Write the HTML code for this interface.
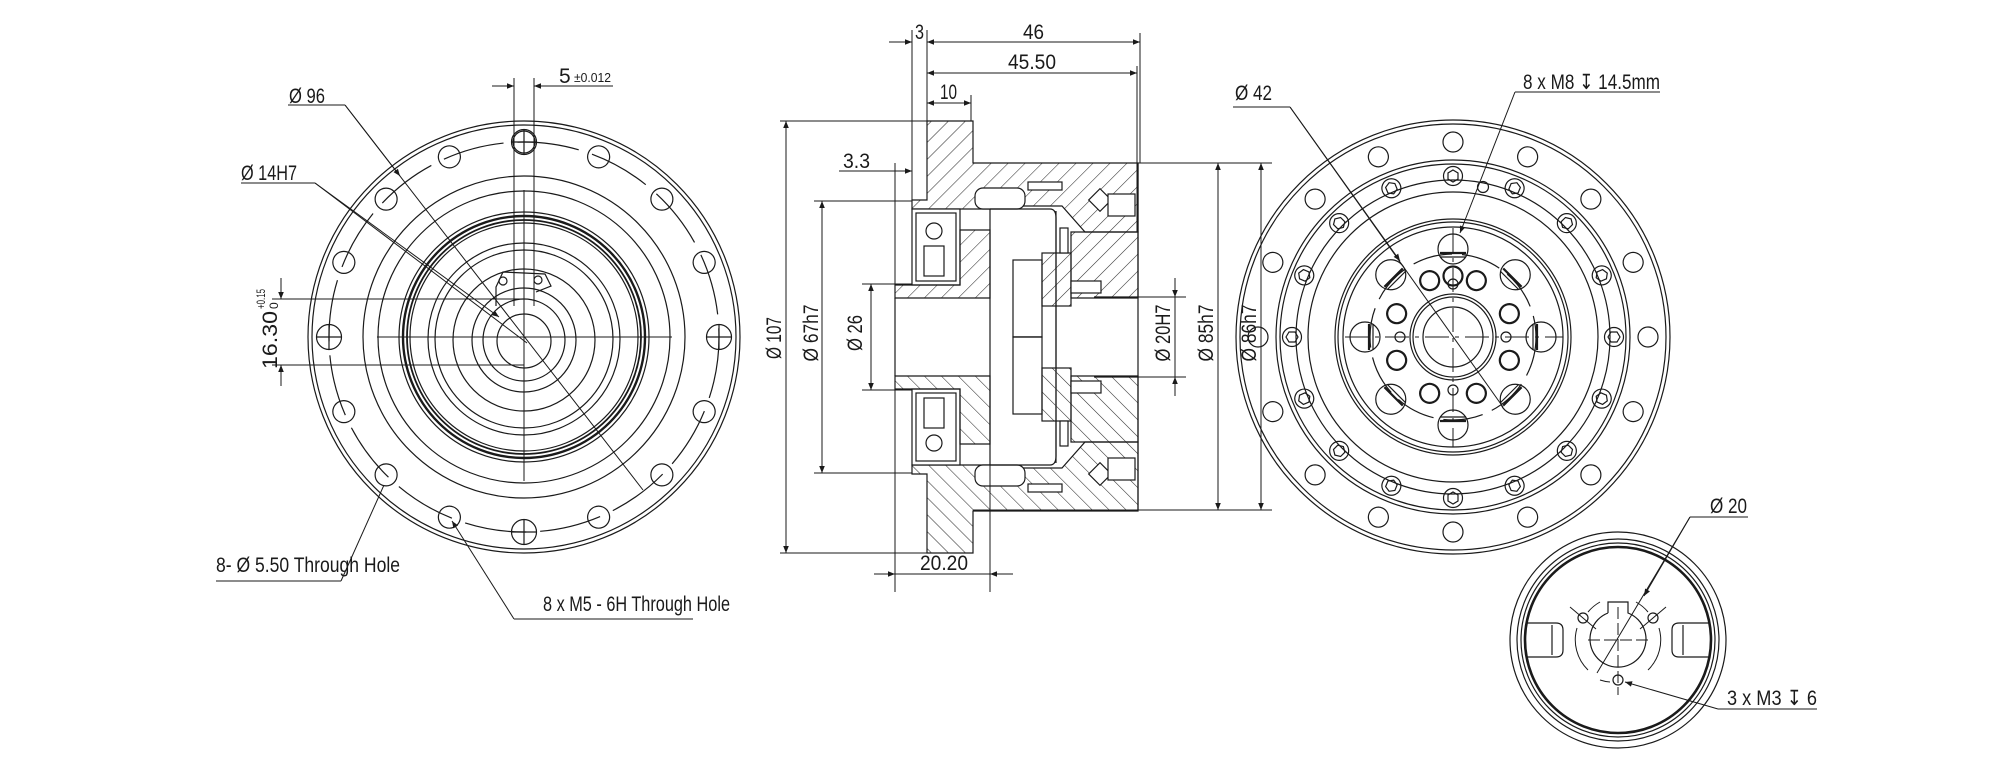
<!DOCTYPE html>
<html><head><meta charset="utf-8"><style>
html,body{margin:0;padding:0;background:#fff}
svg{display:block}
text{font-family:"Liberation Sans Narrow","Liberation Sans","DejaVu Sans",sans-serif;fill:#1a1a1a;font-size:21px}
</style></head><body>
<svg width="2000" height="765" viewBox="0 0 2000 765" xmlns="http://www.w3.org/2000/svg">
<defs>
<marker id="a" viewBox="0 0 10 10" refX="10" refY="5" markerWidth="14" markerHeight="7" markerUnits="userSpaceOnUse" orient="auto-start-reverse"><path d="M0,1 L10,5 L0,9z" fill="#1a1a1a"/></marker>
<pattern id="ht" patternUnits="userSpaceOnUse" width="12" height="12" patternTransform="rotate(45)"><line x1="0" y1="0" x2="0" y2="12" stroke="#333" stroke-width="1.1"/></pattern>
</defs>
<rect width="2000" height="765" fill="#fff"/>

<!-- ============ LEFT VIEW ============ -->
<g fill="none" stroke="#1a1a1a" stroke-width="1.2">
<circle cx="524" cy="337" r="216"/>
<circle cx="524" cy="337" r="212"/>
<circle cx="524" cy="337" r="195" stroke-dasharray="62 14"/>
<circle cx="524" cy="337" r="161"/>
<circle cx="524" cy="337" r="146"/>
<circle cx="524" cy="337" r="125"/>
<circle cx="524" cy="337" r="121" stroke-width="2.4"/>
<circle cx="524" cy="337" r="117" stroke-width="1.8"/>
<circle cx="524" cy="337" r="114"/>
<circle cx="524" cy="339" r="96"/>
<circle cx="524" cy="339" r="89"/>
<circle cx="524" cy="340" r="71"/>
<circle cx="524" cy="340" r="52"/>
<circle cx="524" cy="340" r="41"/>
<circle cx="524" cy="341" r="27"/>
<path d="M496,306 L496,287 L503,272 L545,274 L551,286 L536,292"/>
<circle cx="503" cy="281" r="4"/>
<circle cx="538" cy="280" r="4"/>
<g id="lh"><circle cx="524" cy="142" r="11"/></g>
<use href="#lh" transform="rotate(22.5 524 337)"/>
<use href="#lh" transform="rotate(45 524 337)"/>
<use href="#lh" transform="rotate(67.5 524 337)"/>
<use href="#lh" transform="rotate(112.5 524 337)"/>
<use href="#lh" transform="rotate(135 524 337)"/>
<use href="#lh" transform="rotate(157.5 524 337)"/>
<use href="#lh" transform="rotate(202.5 524 337)"/>
<use href="#lh" transform="rotate(225 524 337)"/>
<use href="#lh" transform="rotate(247.5 524 337)"/>
<use href="#lh" transform="rotate(292.5 524 337)"/>
<use href="#lh" transform="rotate(315 524 337)"/>
<use href="#lh" transform="rotate(337.5 524 337)"/>
<g id="lc"><circle cx="524" cy="142" r="12.5"/><line x1="511" y1="142" x2="537" y2="142"/><line x1="524" y1="129" x2="524" y2="155"/></g>
<use href="#lc" transform="rotate(90 524 337)"/>
<use href="#lc" transform="rotate(180 524 337)"/>
<use href="#lc" transform="rotate(270 524 337)"/>
<line x1="377" y1="337" x2="672" y2="337" stroke-width="1"/>
<line x1="524" y1="190" x2="524" y2="481" stroke-width="1"/>
<line x1="514" y1="78" x2="514" y2="306" stroke-width="1"/>
<line x1="534" y1="78" x2="534" y2="306" stroke-width="1"/>
<line x1="492" y1="86" x2="514" y2="86" stroke-width="1" marker-end="url(#a)"/>
<line x1="613" y1="86" x2="534" y2="86" stroke-width="1" marker-end="url(#a)"/>
<line x1="272" y1="299" x2="524" y2="299" stroke-width="1"/>
<line x1="272" y1="365" x2="524" y2="365" stroke-width="1"/>
<line x1="281" y1="278" x2="281" y2="299" stroke-width="1" marker-end="url(#a)"/>
<line x1="281" y1="386" x2="281" y2="365" stroke-width="1" marker-end="url(#a)"/>
<line x1="288" y1="105" x2="345" y2="105" stroke-width="1"/>
<line x1="345" y1="105" x2="643" y2="490" stroke-width="1"/>
<line x1="345" y1="105" x2="400" y2="176" stroke-width="1" marker-end="url(#a)"/>
<line x1="241" y1="183" x2="315" y2="183" stroke-width="1"/>
<line x1="315" y1="183" x2="527" y2="343" stroke-width="1"/>
<line x1="315" y1="183" x2="499" y2="317" stroke-width="1" marker-end="url(#a)"/>
<line x1="216" y1="581" x2="341" y2="581" stroke-width="1"/>
<line x1="341" y1="581" x2="384" y2="485" stroke-width="1"/>
<line x1="514" y1="619" x2="693" y2="619" stroke-width="1"/>
<line x1="514" y1="619" x2="452" y2="521" stroke-width="1" marker-end="url(#a)"/>
</g>
<text x="289" y="103" textLength="36" lengthAdjust="spacingAndGlyphs">Ø 96</text>
<text x="241" y="180" textLength="56" lengthAdjust="spacingAndGlyphs">Ø 14H7</text>
<text x="559" y="83">5</text>
<text x="574" y="82" style="font-size:13px" textLength="37" lengthAdjust="spacingAndGlyphs">±0.012</text>
<text transform="translate(277,340) rotate(-90)" text-anchor="middle" textLength="58" lengthAdjust="spacingAndGlyphs">16.30</text>
<text transform="translate(265,309) rotate(-90)" style="font-size:12px" textLength="20" lengthAdjust="spacingAndGlyphs">+0.15</text>
<text transform="translate(278,309) rotate(-90)" style="font-size:12px">0</text>
<text x="216" y="572" textLength="184" lengthAdjust="spacingAndGlyphs">8- Ø 5.50 Through Hole</text>
<text x="543" y="611" textLength="187" lengthAdjust="spacingAndGlyphs">8 x  M5 - 6H Through Hole</text>

<!-- ============ MIDDLE SECTION ============ -->
<g id="up" stroke="#1a1a1a" stroke-width="1.2">
<path d="M927,121 L973,121 L973,163 L1138,163 L1138,232 L1085,232 L1062,206 L990,206 L990,209 L912,209 L912,200 L927,200 Z" fill="url(#ht)"/>
<rect x="975" y="188" width="50" height="21" rx="8" fill="#fff"/>
<rect x="1028" y="182" width="34" height="8" fill="#fff"/>
<rect x="1092" y="192" width="16" height="16" transform="rotate(45 1100 200)" fill="#fff"/>
<rect x="1108" y="194" width="27" height="22" fill="#fff"/>
<rect x="912" y="209" width="48" height="76" fill="#fff"/>
<rect x="916" y="213" width="40" height="68" fill="none"/>
<circle cx="934" cy="231" r="8" fill="none"/>
<rect x="924" y="246" width="20" height="30" fill="none"/>
<path d="M960,230 L990,230 L990,298 L895,298 L895,285 L960,285 Z" fill="url(#ht)"/>
<path d="M990,209 L1050,209 Q1056,209 1056,218 L1056,463" fill="none"/>
<rect x="1013" y="260" width="29" height="77" fill="#fff"/>
<rect x="1042" y="253" width="29" height="53" fill="url(#ht)"/>
<path d="M1071,232 L1138,232 L1138,298 L1071,298 Z" fill="url(#ht)"/>
<rect x="1071" y="281" width="30" height="12" fill="#fff"/>
<rect x="1060" y="228" width="8" height="25" fill="#fff"/>
</g>
<use href="#up" transform="matrix(1,0,0,-1,0,674)"/>
<g fill="none" stroke="#1a1a1a" stroke-width="1.2">
<line x1="990" y1="209" x2="990" y2="465"/>
<line x1="1013" y1="337" x2="1042" y2="337"/>
<line x1="895" y1="298" x2="895" y2="376"/>
<line x1="1094" y1="297" x2="1138" y2="297"/>
<line x1="1094" y1="377" x2="1138" y2="377"/>
<line x1="1138" y1="163" x2="1138" y2="510"/>
</g>
<g fill="none" stroke="#1a1a1a" stroke-width="1">
<line x1="912" y1="30" x2="912" y2="201"/>
<line x1="927" y1="30" x2="927" y2="121"/>
<line x1="1140" y1="33" x2="1140" y2="163"/>
<line x1="1137" y1="66" x2="1137" y2="232"/>
<line x1="971" y1="95" x2="971" y2="121"/>
<line x1="889" y1="42" x2="912" y2="42" marker-end="url(#a)"/>
<line x1="927" y1="42" x2="1140" y2="42" marker-start="url(#a)" marker-end="url(#a)"/>
<line x1="927" y1="73" x2="1137" y2="73" marker-start="url(#a)" marker-end="url(#a)"/>
<line x1="927" y1="103" x2="971" y2="103" marker-start="url(#a)" marker-end="url(#a)"/>
<line x1="839" y1="171" x2="912" y2="171" marker-end="url(#a)"/>
<line x1="780" y1="121" x2="927" y2="121"/>
<line x1="780" y1="553" x2="927" y2="553"/>
<line x1="786" y1="121" x2="786" y2="553" marker-start="url(#a)" marker-end="url(#a)"/>
<line x1="814" y1="201" x2="912" y2="201"/>
<line x1="814" y1="473" x2="912" y2="473"/>
<line x1="822" y1="201" x2="822" y2="473" marker-start="url(#a)" marker-end="url(#a)"/>
<line x1="862" y1="284" x2="912" y2="284"/>
<line x1="862" y1="390" x2="912" y2="390"/>
<line x1="871" y1="284" x2="871" y2="390" marker-start="url(#a)" marker-end="url(#a)"/>
<line x1="895" y1="163" x2="895" y2="592"/>
<line x1="990" y1="465" x2="990" y2="592"/>
<line x1="874" y1="574" x2="895" y2="574" marker-end="url(#a)"/>
<line x1="895" y1="574" x2="990" y2="574"/>
<line x1="1013" y1="574" x2="990" y2="574" marker-end="url(#a)"/>
<line x1="1138" y1="297" x2="1186" y2="297"/>
<line x1="1138" y1="377" x2="1186" y2="377"/>
<line x1="1175" y1="278" x2="1175" y2="297" marker-end="url(#a)"/>
<line x1="1175" y1="396" x2="1175" y2="377" marker-end="url(#a)"/>
<line x1="1175" y1="297" x2="1175" y2="377"/>
<line x1="973" y1="163" x2="1272" y2="163"/>
<line x1="973" y1="510" x2="1272" y2="510"/>
<line x1="1218" y1="163" x2="1218" y2="510" marker-start="url(#a)" marker-end="url(#a)"/>
<line x1="1261" y1="163" x2="1261" y2="510" marker-start="url(#a)" marker-end="url(#a)"/>
</g>
<text x="915" y="39" textLength="9" lengthAdjust="spacingAndGlyphs">3</text>
<text x="1023" y="39" textLength="21" lengthAdjust="spacingAndGlyphs">46</text>
<text x="1008" y="69" textLength="48" lengthAdjust="spacingAndGlyphs">45.50</text>
<text x="940" y="99" textLength="17" lengthAdjust="spacingAndGlyphs">10</text>
<text x="843" y="168" textLength="27" lengthAdjust="spacingAndGlyphs">3.3</text>
<text x="920" y="570" textLength="48" lengthAdjust="spacingAndGlyphs">20.20</text>
<text transform="translate(781,338) rotate(-90)" text-anchor="middle" textLength="42" lengthAdjust="spacingAndGlyphs">Ø 107</text>
<text transform="translate(818,333) rotate(-90)" text-anchor="middle" textLength="57" lengthAdjust="spacingAndGlyphs">Ø 67h7</text>
<text transform="translate(862,333) rotate(-90)" text-anchor="middle" textLength="36" lengthAdjust="spacingAndGlyphs">Ø 26</text>
<text transform="translate(1170,333) rotate(-90)" text-anchor="middle" textLength="57" lengthAdjust="spacingAndGlyphs">Ø 20H7</text>
<text transform="translate(1213,333) rotate(-90)" text-anchor="middle" textLength="57" lengthAdjust="spacingAndGlyphs">Ø 85h7</text>
<text transform="translate(1256,333) rotate(-90)" text-anchor="middle" textLength="57" lengthAdjust="spacingAndGlyphs">Ø 86h7</text>

<!-- ============ RIGHT VIEW ============ -->
<g fill="none" stroke="#1a1a1a" stroke-width="1.2">
<circle cx="1453" cy="337" r="217"/>
<circle cx="1453" cy="337" r="213"/>
<circle cx="1453" cy="337" r="177"/>
<circle cx="1453" cy="337" r="173"/>
<circle cx="1453" cy="337" r="157"/>
<circle cx="1453" cy="337" r="145"/>
<circle cx="1453" cy="337" r="118"/>
<circle cx="1453" cy="337" r="115"/>
<circle cx="1453" cy="337" r="110"/>
<circle cx="1453" cy="337" r="83" stroke-dasharray="40 10"/>
<circle cx="1453" cy="337" r="43"/>
<circle cx="1453" cy="337" r="40"/>
<circle cx="1453" cy="337" r="30"/>
<g id="ro"><circle cx="1453" cy="142" r="10"/></g>
<use href="#ro" transform="rotate(22.5 1453 337)"/><use href="#ro" transform="rotate(45 1453 337)"/><use href="#ro" transform="rotate(67.5 1453 337)"/><use href="#ro" transform="rotate(90 1453 337)"/><use href="#ro" transform="rotate(112.5 1453 337)"/><use href="#ro" transform="rotate(135 1453 337)"/><use href="#ro" transform="rotate(157.5 1453 337)"/><use href="#ro" transform="rotate(180 1453 337)"/><use href="#ro" transform="rotate(202.5 1453 337)"/><use href="#ro" transform="rotate(225 1453 337)"/><use href="#ro" transform="rotate(247.5 1453 337)"/><use href="#ro" transform="rotate(270 1453 337)"/><use href="#ro" transform="rotate(292.5 1453 337)"/><use href="#ro" transform="rotate(315 1453 337)"/><use href="#ro" transform="rotate(337.5 1453 337)"/>
<g id="rb"><circle cx="1453" cy="176" r="9.5"/><polygon points="1453,170 1458,173 1458,179 1453,182 1448,179 1448,173"/></g>
<use href="#rb" transform="rotate(22.5 1453 337)"/><use href="#rb" transform="rotate(45 1453 337)"/><use href="#rb" transform="rotate(67.5 1453 337)"/><use href="#rb" transform="rotate(90 1453 337)"/><use href="#rb" transform="rotate(112.5 1453 337)"/><use href="#rb" transform="rotate(135 1453 337)"/><use href="#rb" transform="rotate(157.5 1453 337)"/><use href="#rb" transform="rotate(180 1453 337)"/><use href="#rb" transform="rotate(202.5 1453 337)"/><use href="#rb" transform="rotate(225 1453 337)"/><use href="#rb" transform="rotate(247.5 1453 337)"/><use href="#rb" transform="rotate(270 1453 337)"/><use href="#rb" transform="rotate(292.5 1453 337)"/><use href="#rb" transform="rotate(315 1453 337)"/><use href="#rb" transform="rotate(337.5 1453 337)"/>
<circle cx="1483" cy="187" r="5.5"/>
<g id="rm"><circle cx="1453" cy="249" r="15"/><line x1="1440" y1="253" x2="1466" y2="253" stroke-width="2.2"/><line x1="1440" y1="257" x2="1466" y2="257"/></g>
<use href="#rm" transform="rotate(45 1453 337)"/><use href="#rm" transform="rotate(90 1453 337)"/><use href="#rm" transform="rotate(135 1453 337)"/><use href="#rm" transform="rotate(180 1453 337)"/><use href="#rm" transform="rotate(225 1453 337)"/><use href="#rm" transform="rotate(270 1453 337)"/><use href="#rm" transform="rotate(315 1453 337)"/>
<g id="rs"><circle cx="1453" cy="276" r="9.5" stroke-width="2.2"/></g>
<g transform="rotate(22.5 1453 337)"><use href="#rs"/><use href="#rs" transform="rotate(45 1453 337)"/><use href="#rs" transform="rotate(90 1453 337)"/><use href="#rs" transform="rotate(135 1453 337)"/><use href="#rs" transform="rotate(180 1453 337)"/><use href="#rs" transform="rotate(225 1453 337)"/><use href="#rs" transform="rotate(270 1453 337)"/><use href="#rs" transform="rotate(315 1453 337)"/></g>
<circle cx="1453" cy="284" r="5"/><circle cx="1453" cy="390" r="5"/><circle cx="1400" cy="337" r="5"/><circle cx="1506" cy="337" r="5"/>
<line x1="1345" y1="337" x2="1563" y2="337" stroke-width="1" stroke-dasharray="24 6 4 6"/>
<line x1="1453" y1="228" x2="1453" y2="447" stroke-width="1" stroke-dasharray="24 6 4 6"/>
<line x1="1233" y1="107" x2="1290" y2="107" stroke-width="1"/>
<line x1="1290" y1="107" x2="1503" y2="407" stroke-width="1"/>
<line x1="1290" y1="107" x2="1400" y2="261" stroke-width="1" marker-end="url(#a)"/>
<line x1="1515" y1="92" x2="1660" y2="92" stroke-width="1"/>
<line x1="1515" y1="92" x2="1460" y2="233" stroke-width="1" marker-end="url(#a)"/>
</g>
<text x="1235" y="100" textLength="37" lengthAdjust="spacingAndGlyphs">Ø 42</text>
<text x="1523" y="89" textLength="137" lengthAdjust="spacingAndGlyphs">8 x  M8 ↧ 14.5mm</text>

<!-- ============ BOTTOM SMALL VIEW ============ -->
<g fill="none" stroke="#1a1a1a" stroke-width="1.2">
<circle cx="1618" cy="640" r="108"/>
<circle cx="1618" cy="640" r="101"/>
<circle cx="1618" cy="640" r="97"/>
<circle cx="1618" cy="640" r="93" stroke-width="2.6"/>
<path d="M1608,613 L1608,602 L1628,602 L1628,613 A28,28 0 1 1 1608,613"/>
<path d="M1588,612 A42,42 0 0 1 1600,602" stroke-width="1"/>
<path d="M1636,602 A42,42 0 0 1 1648,612" stroke-width="1"/>
<path d="M1577,628 A42,42 0 0 0 1588,670" stroke-width="1"/>
<path d="M1659,628 A42,42 0 0 1 1648,670" stroke-width="1"/>
<path d="M1600,680 A42,42 0 0 0 1610,682" stroke-width="1"/>
<circle cx="1583" cy="618" r="5"/><circle cx="1653" cy="618" r="5"/><circle cx="1618" cy="680" r="5"/>
<line x1="1570" y1="607" x2="1596" y2="629" stroke-width="1"/>
<line x1="1666" y1="607" x2="1640" y2="629" stroke-width="1"/>
<line x1="1588" y1="640" x2="1648" y2="640" stroke-width="1" stroke-dasharray="12 4"/>
<line x1="1618" y1="607" x2="1618" y2="695" stroke-width="1" stroke-dasharray="12 4"/>
<path d="M1527,623 L1556,623 Q1563,623 1563,630 L1563,650 Q1563,657 1556,657 L1527,657"/>
<path d="M1552,625 L1552,655"/>
<path d="M1710,623 L1679,623 Q1672,623 1672,630 L1672,650 Q1672,657 1679,657 L1710,657"/>
<path d="M1683,625 L1683,655"/>
<line x1="1690" y1="517" x2="1748" y2="517" stroke-width="1"/>
<line x1="1690" y1="517" x2="1597" y2="673" stroke-width="1"/>
<line x1="1690" y1="517" x2="1644" y2="596" stroke-width="1" marker-end="url(#a)"/>
<line x1="1718" y1="709" x2="1817" y2="709" stroke-width="1"/>
<line x1="1718" y1="709" x2="1625" y2="682" stroke-width="1" marker-end="url(#a)"/>
</g>
<text x="1710" y="513" textLength="37" lengthAdjust="spacingAndGlyphs">Ø 20</text>
<text x="1727" y="705" textLength="90" lengthAdjust="spacingAndGlyphs">3 x  M3 ↧ 6</text>
</svg>
</body></html>
